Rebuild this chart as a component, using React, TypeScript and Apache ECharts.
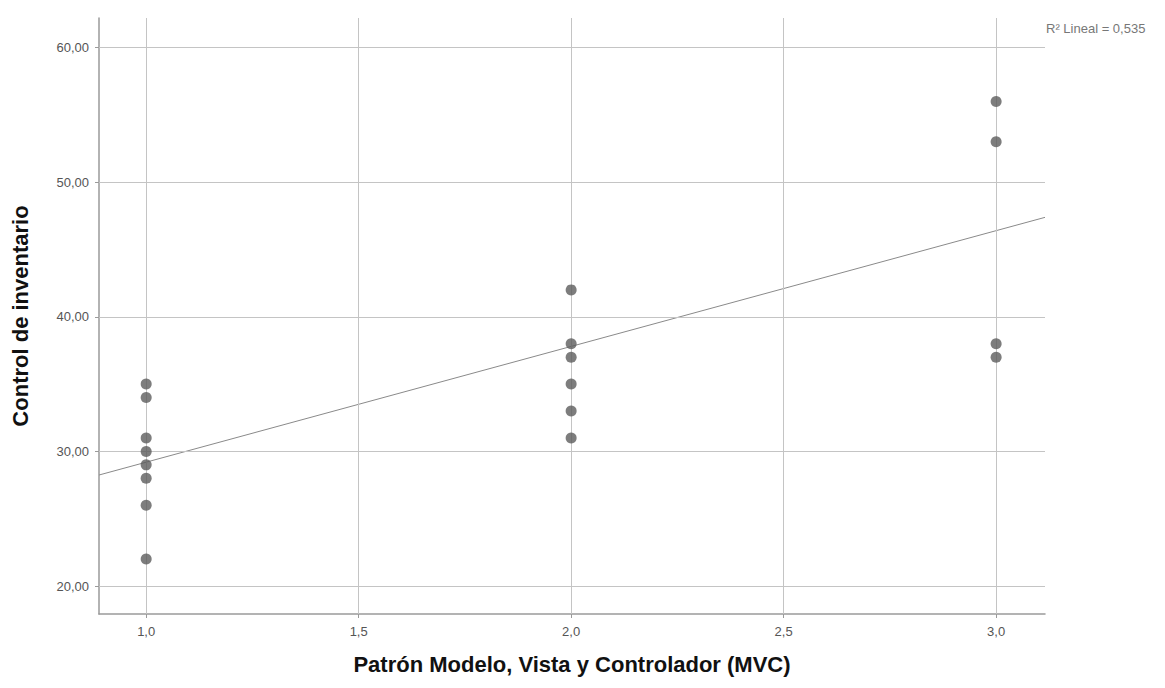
import React, { useEffect, useRef } from "react";
import * as echarts from "echarts";

const groupX = [1, 2, 3];
const valuesMVC1 = [35, 34, 31, 30, 29, 28, 26, 22];
const valuesMVC2 = [42, 38, 37, 35, 33, 31];
const valuesMVC3 = [56, 53, 38, 37];
const xTicks = [1.0, 1.5, 2.0, 2.5, 3.0];
const yTicks = [20, 30, 40, 50, 60];
const fitIntercept = 20.6;
const fitSlope = 8.6;
const r2Text = "R² Lineal = 0,535";
const xRange = [0.889, 3.115];
const yRange = [17.92, 62.2];

export default function App() {
  const ref = useRef<HTMLDivElement>(null);
  useEffect(() => {
    const chart = echarts.init(ref.current!, null, { renderer: "svg" });
    const points: number[][] = [];
    [valuesMVC1, valuesMVC2, valuesMVC3].forEach((arr, i) =>
      arr.forEach((v) => points.push([groupX[i], v]))
    );
    const fitLine = xRange.map((x) => [x, fitIntercept + fitSlope * x]);
    const gridStyle = { color: "#c4c4c4", width: 1, type: "solid" as const };
    const font = "Liberation Sans, Arial";
    chart.setOption({
      animation: false,
      grid: { left: 99, right: 120, top: 18, bottom: 74 },
      xAxis: {
        type: "value",
        min: xRange[0],
        max: xRange[1],
        name: "Patrón Modelo, Vista y Controlador (MVC)",
        nameLocation: "middle",
        nameGap: 39,
        nameTextStyle: { fontFamily: font, fontSize: 22, fontWeight: "bold", color: "#111" },
        axisLine: { show: true, lineStyle: { color: "#9a9a9a", width: 1.5 } },
        axisTick: { show: true, customValues: xTicks, length: 4, lineStyle: { color: "#9a9a9a" } },
        axisLabel: {
          customValues: xTicks,
          formatter: (v: number) => v.toFixed(1).replace(".", ","),
          fontFamily: font,
          fontSize: 13,
          color: "#555",
          margin: 11,
        },
        splitLine: { show: false },
      },
      yAxis: {
        type: "value",
        min: yRange[0],
        max: yRange[1],
        name: "Control de inventario",
        nameLocation: "middle",
        nameGap: 68,
        nameTextStyle: { fontFamily: font, fontSize: 22, fontWeight: "bold", color: "#111" },
        axisLine: { show: true, lineStyle: { color: "#9a9a9a", width: 1.5 } },
        axisTick: { show: true, customValues: yTicks, length: 4, lineStyle: { color: "#9a9a9a" } },
        axisLabel: {
          customValues: yTicks,
          formatter: (v: number) => v.toFixed(2).replace(".", ","),
          fontFamily: font,
          fontSize: 13,
          color: "#555",
          margin: 10,
        },
        splitLine: { show: false },
      },
      series: [
        {
          type: "scatter",
          data: points,
          symbolSize: 11,
          itemStyle: { color: "#5c5c5c" },
          z: 5,
          markLine: {
            silent: true,
            symbol: "none",
            label: { show: false },
            lineStyle: gridStyle,
            data: [
              ...yTicks.map((v) => ({ yAxis: v })),
              ...xTicks.map((v) => ({ xAxis: v })),
            ],
          },
        },
        {
          type: "line",
          data: fitLine,
          showSymbol: false,
          lineStyle: { color: "#8a8a8a", width: 1 },
          z: 4,
        },
      ],
      graphic: [
        {
          type: "text",
          left: 1046,
          top: 22,
          style: { text: r2Text, fontFamily: font, fontSize: 13, fill: "#777" },
        },
      ],
    });
    return () => chart.dispose();
  }, []);
  return (
    <div
      ref={ref}
      style={{ position: "fixed", left: 0, top: 0, width: 1165, height: 688, background: "#fff" }}
    />
  );
}
